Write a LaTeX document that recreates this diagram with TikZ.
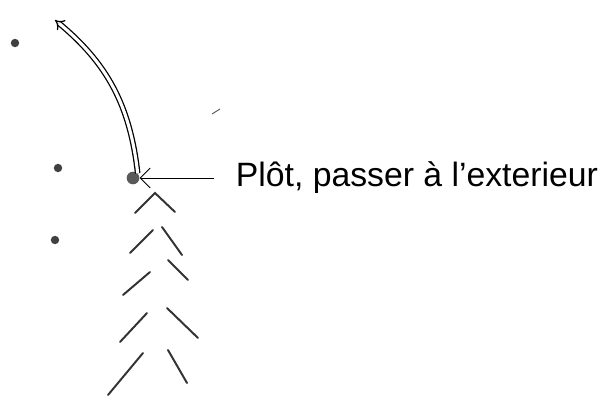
\documentclass[tikz,border=0pt]{standalone}
\usepackage{fontspec}
\setmainfont{Liberation Sans}
\usetikzlibrary{positioning,arrows.meta}

\begin{document}
\begin{tikzpicture}[
    x=0.025cm, y=-0.025cm,
    node distance=1.85cm,
    cone/.style={
        circle,
        fill=black!75,
        inner sep=0pt,
        minimum size=6pt
    },
    plot/.style={
        circle,
        fill=black!65,
        inner sep=0pt,
        minimum size=9pt
    },
    note/.style={
        inner xsep=0.55cm,
        font=\fontsize{24}{28}\selectfont
    },
    turn/.style={
        double,
        double distance=2.2pt,
        line width=0.9pt,
        -{Implies}
    },
    pointer/.style={
        -{Straight Barb[length=2.5mm]},
        semithick
    },
    track/.style={
        line width=1.4pt,
        line cap=round,
        black!80
    }
]
\useasboundingbox (0,0) rectangle (607,396);

\node[cone] (cone1) at (15,43) {};
\node[cone] (cone2) at (58,168) {};
\node[cone] (cone3) at (55,240) {};

\node[plot] (plot) at (133,178) {};
\coordinate (goal) at (55,20);

\node[note, right=of plot.east, anchor=west] (note) {Plôt, passer à l'exterieur};

\draw[turn] (plot.north east) to[bend right=22] (goal);
\draw[pointer] (note.west) -- (plot.east);

% stray mark
\draw[semithick, black!70] (212,114) -- (220,109);

% ski tracks
\draw[track] (135,213) -- (155,193) -- (175,212);
\draw[track] (130,253) -- (153,230);
\draw[track] (162,227) -- (182,255);
\draw[track] (123,295) -- (150,272);
\draw[track] (168,260) -- (188,280);
\draw[track] (120,342) -- (147,313);
\draw[track] (167,308) -- (198,338);
\draw[track] (108,395) -- (143,353);
\draw[track] (168,350) -- (187,383);

\end{tikzpicture}
\end{document}
